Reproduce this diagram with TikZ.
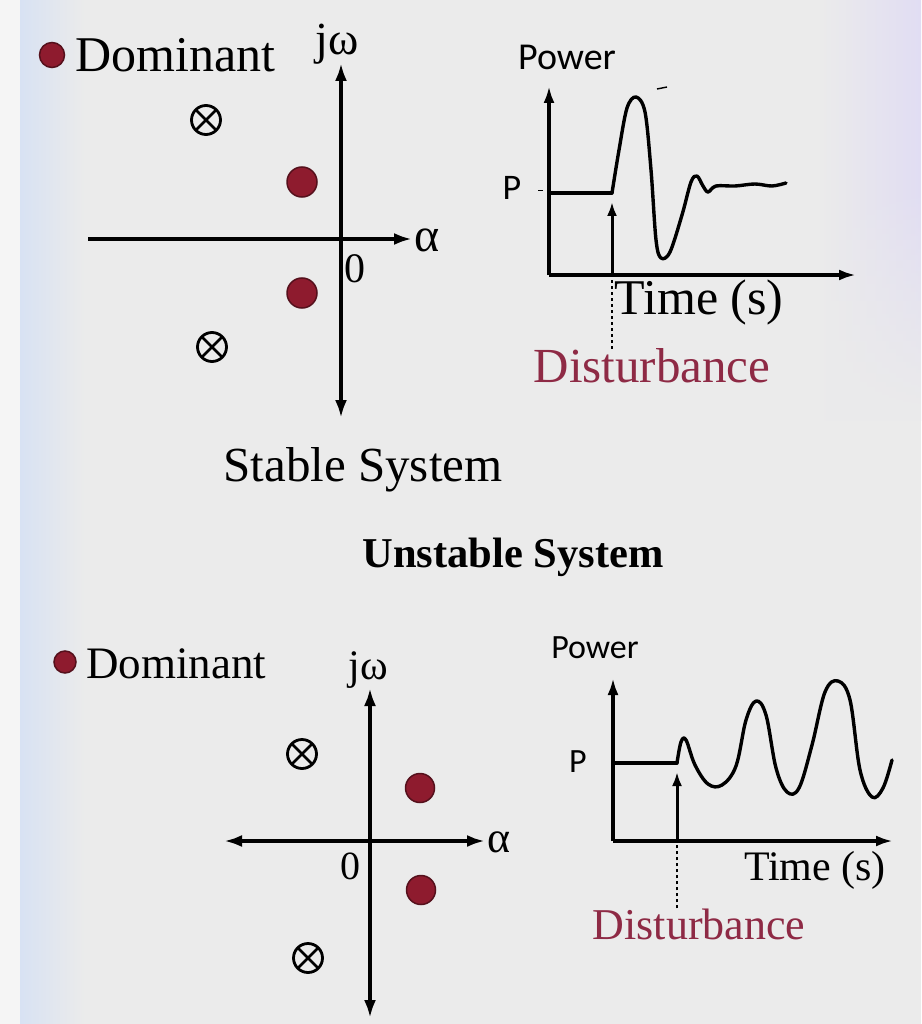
\documentclass[tikz,border=0pt]{standalone}
\usepackage{fontspec}
\setmainfont{Liberation Serif}
\newfontfamily\sansf{Carlito}
\usetikzlibrary{arrows.meta,fadings}
\definecolor{bg}{HTML}{EBEBEB}
\definecolor{dotred}{HTML}{8E1B2E}
\definecolor{distred}{HTML}{8E2A45}
\definecolor{leftblue}{HTML}{D8E2F3}
\definecolor{lav}{HTML}{E1DDF3}
\begin{document}
\begin{tikzpicture}[x=1pt,y=-1pt,
  ax/.style={line width=3.6pt,-{Latex[length=18pt,width=12pt]}},
  axtwo/.style={line width=3.6pt,{Latex[length=18pt,width=12pt]}-{Latex[length=18pt,width=12pt]}},
  pax/.style={line width=3.8pt,-{Latex[length=17pt,width=11pt]}},
  curve/.style={line width=3.4pt,line join=round,line cap=round},
  dot/.style={circle,fill=dotred,draw=dotred!60!black,line width=1.5pt,minimum size=#1,inner sep=0pt},
  otimes/.style={circle,draw,line width=2.8pt,minimum size=29pt,inner sep=0pt,
    path picture={\draw[line width=2.8pt] (path picture bounding box.north west) -- (path picture bounding box.south east)
      (path picture bounding box.north east) -- (path picture bounding box.south west);}},
  lbl/.style={inner sep=0pt,font=\fontsize{#1}{#1}\selectfont},
  slbl/.style={inner sep=0pt,font=\sansf\fontsize{#1}{#1}\selectfont},
]
\useasboundingbox (0,0) rectangle (921,1024);
% background
\fill[bg] (0,0) rectangle (921,1024);
\fill[left color=leftblue,right color=bg] (20,0) rectangle (85,1024);
\fill[left color=bg,right color=lav] (820,0) rectangle (921,420);
\fill[bg,path fading=north] (820,180) rectangle (921,421);
\fill[bg!50!white] (0,0) rectangle (20,1024);

% ===== Top-left pole plot =====
\node[dot=25pt] (leg1) at (52,55) {};
\node[lbl=50,anchor=west] (dom1) at (75,55) {Dominant};
\coordinate (v1t) at (341,63);
\coordinate (v1b) at (341,418);
\coordinate (h1l) at (88,239);
\coordinate (h1r) at (412,239);
\draw[axtwo] (v1b) -- (v1t);
\draw[ax] (h1l) -- (h1r);
\node[lbl=46] (jw1) at (337,44) {jω};
\node[lbl=48,anchor=west] (al1) at (414,240) {α};
\node[lbl=42] (z1) at (355,269) {0};
\node[dot=30pt] (p1a) at (302,182) {};
\node[dot=30pt] (p1b) at (302,293) {};
\node[otimes] (x1a) at (206,120) {};
\node[otimes] (x1b) at (212,347) {};
\node[lbl=49] (stab) at (363,470) {Stable System};

% ===== Top-right power plot =====
\node[slbl=38] (pow1) at (567,57) {Power};
\node[slbl=36] (P1) at (512,188) {P};
\coordinate (o1) at (549,275);
\coordinate (o1t) at (549,86);
\coordinate (o1r) at (856,275);
\draw[pax] (o1) -- (o1t);
\draw[pax] (o1) -- (o1r);
\draw[line width=1pt] (538,191) -- (543,191);
\draw[curve] (549,193) -- (612,193);
\draw[curve] plot[smooth,tension=0.55] coordinates {(612,193) (619,150) (627,108) (636,97) (645,112) (651,170) (656,240) (661,258) (670,252) (682,215) (691,182) (697,176) (703,186) (708,192) (716,186) (735,186) (755,184) (772,186) (786,183)};
\draw[line width=1.4pt] (657,89) -- (667,87);
\node[lbl=50] (time1) at (699,302) {Time (s)};
\node[lbl=49,text=distred] (dist1) at (652,366) {Disturbance};
\coordinate (d1a) at (612,276);
\coordinate (d1t) at (612,202);
\draw[line width=1.4pt,dashed] (dist1.north -| d1a) -- (d1a);
\draw[line width=3pt,-{Latex[length=14pt,width=10pt]}] (d1a) -- (d1t);

% ===== Title =====
\node[inner sep=0pt,font=\bfseries\fontsize{42.5}{42.5}\selectfont] (unst) at (513,557) {Unstable System};

% ===== Bottom-left pole plot =====
\node[dot=22pt] (leg2) at (65,662) {};
\node[lbl=45,anchor=west] (dom2) at (86,664) {Dominant};
\coordinate (v2t) at (370,688);
\coordinate (v2b) at (370,1018);
\coordinate (h2l) at (224,841);
\coordinate (h2r) at (485,841);
\draw[axtwo] (v2b) -- (v2t);
\draw[axtwo] (h2l) -- (h2r);
\node[lbl=42] (jw2) at (368,670) {jω};
\node[lbl=44,anchor=west] (al2) at (487,842) {α};
\node[lbl=40] (z2) at (350,866) {0};
\node[dot=29pt] (p2a) at (420,788) {};
\node[dot=29pt] (p2b) at (421,890) {};
\node[otimes] (x2a) at (302,754) {};
\node[otimes] (x2b) at (308,958) {};

% ===== Bottom-right power plot =====
\node[slbl=34] (pow2) at (595,648) {Power};
\node[slbl=34] (P2) at (578,762) {P};
\coordinate (o2) at (613,841);
\coordinate (o2t) at (613,678);
\coordinate (o2r) at (893,841);
\draw[pax] (o2) -- (o2t);
\draw[pax] (o2) -- (o2r);
\draw[curve] (613,763) -- (677,763);
\draw[curve] plot[smooth,tension=0.6] coordinates {(677,763) (681,742) (686,740) (695,765) (708,784) (722,785) (736,766) (746,720) (756,701) (766,715) (776,768) (787,792) (799,788) (812,745) (825,692) (838,681) (850,700) (860,770) (872,797) (883,788) (892,760)};
\node[lbl=42] (time2) at (815,870) {Time (s)};
\node[lbl=44,text=distred] (dist2) at (699,924) {Disturbance};
\coordinate (d2a) at (677,842);
\coordinate (d2t) at (677,772);
\draw[line width=1.4pt,dashed] (dist2.north -| d2a) -- (d2a);
\draw[line width=3pt,-{Latex[length=14pt,width=10pt]}] (d2a) -- (d2t);
\end{tikzpicture}
\end{document}
